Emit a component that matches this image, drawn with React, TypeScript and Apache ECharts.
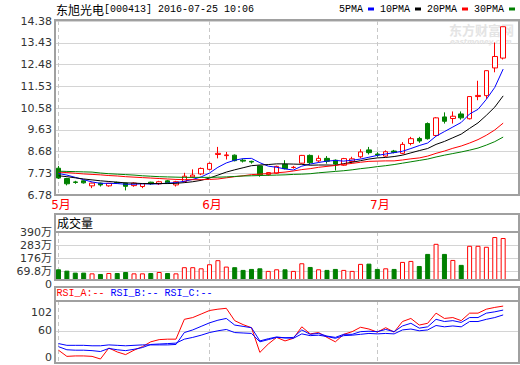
import React, { useEffect, useRef } from "react";
import * as echarts from "echarts";

const dates = [
  "2016-05-06",
  "2016-05-09", "2016-05-10", "2016-05-11", "2016-05-12", "2016-05-13",
  "2016-05-16", "2016-05-17", "2016-05-18", "2016-05-19", "2016-05-20",
  "2016-05-23", "2016-05-24", "2016-05-25", "2016-05-26", "2016-05-27",
  "2016-05-30", "2016-05-31",
  "2016-06-01", "2016-06-02", "2016-06-03",
  "2016-06-06", "2016-06-07", "2016-06-08",
  "2016-06-13", "2016-06-14", "2016-06-15", "2016-06-16", "2016-06-17",
  "2016-06-20", "2016-06-21", "2016-06-22", "2016-06-23", "2016-06-24",
  "2016-06-27", "2016-06-28", "2016-06-29", "2016-06-30",
  "2016-07-01",
  "2016-07-04", "2016-07-05", "2016-07-06", "2016-07-07", "2016-07-08",
  "2016-07-11", "2016-07-12", "2016-07-13", "2016-07-14", "2016-07-15",
  "2016-07-18", "2016-07-19", "2016-07-20", "2016-07-21", "2016-07-22",
];

// [open, close, low, high]
const candles = [
  [7.95, 7.52, 7.48, 8.05], [7.50, 7.27, 7.20, 7.53], [7.35, 7.33, 7.27, 7.40],
  [7.40, 7.31, 7.28, 7.42], [7.18, 7.30, 7.08, 7.32], [7.30, 7.22, 7.15, 7.32],
  [7.18, 7.29, 7.14, 7.31], [7.33, 7.30, 7.26, 7.36], [7.30, 7.16, 6.98, 7.32],
  [7.19, 7.30, 7.14, 7.33], [7.15, 7.28, 7.08, 7.30], [7.34, 7.27, 7.22, 7.36],
  [7.27, 7.36, 7.22, 7.40], [7.40, 7.31, 7.27, 7.44], [7.22, 7.36, 7.15, 7.40],
  [7.37, 7.60, 7.33, 7.75], [7.57, 7.65, 7.52, 7.90], [7.70, 7.94, 7.65, 7.98],
  [7.90, 8.16, 7.86, 8.20], [8.55, 8.60, 8.38, 8.88], [8.50, 8.53, 8.33, 8.66],
  [8.52, 8.28, 8.25, 8.55], [8.30, 8.26, 8.20, 8.35], [8.25, 8.22, 8.15, 8.28],
  [8.05, 7.66, 7.58, 8.06], [7.67, 7.76, 7.62, 7.78], [7.73, 8.03, 7.70, 8.06],
  [8.12, 7.93, 7.90, 8.30], [7.98, 7.99, 7.93, 8.05], [8.17, 8.51, 8.15, 8.53],
  [8.51, 8.19, 8.12, 8.55], [8.27, 8.38, 8.20, 8.51], [8.38, 8.25, 8.15, 8.48],
  [8.30, 8.13, 7.85, 8.33], [8.08, 8.37, 8.05, 8.40], [8.24, 8.36, 8.20, 8.45],
  [8.45, 8.66, 8.38, 8.78], [8.75, 8.63, 8.55, 8.88], [8.57, 8.53, 8.45, 8.65],
  [8.48, 8.67, 8.45, 8.73], [8.70, 8.64, 8.60, 8.75], [8.60, 8.99, 8.56, 9.09],
  [9.03, 9.24, 8.95, 9.32], [9.25, 9.14, 9.06, 9.32], [9.90, 9.24, 9.20, 9.95],
  [9.38, 10.15, 9.35, 10.18], [10.19, 10.00, 9.90, 10.39], [10.12, 10.22, 9.90, 10.43],
  [10.32, 10.15, 10.07, 10.43], [10.11, 11.08, 10.08, 11.08], [11.08, 11.13, 10.92, 11.77],
  [11.12, 12.21, 10.98, 12.22], [12.33, 12.83, 12.14, 13.44], [12.76, 14.13, 12.70, 14.13],
];

// volume in 万
const volumes = [
  87, 76, 60, 60, 54, 49, 57, 57, 65, 54, 54, 57, 65, 57, 54, 104, 104, 95,
  128, 161, 109, 104, 82, 90, 95, 74, 87, 87, 74, 136, 106, 87, 82, 90, 82, 74,
  131, 133, 90, 95, 90, 147, 155, 114, 212, 294, 212, 163, 123, 278, 278, 270, 349, 341,
];

const ma5 = [
  7.72, 7.65, 7.55, 7.45, 7.35, 7.29, 7.29, 7.28, 7.25, 7.25, 7.27, 7.26, 7.27, 7.30,
  7.32, 7.38, 7.46, 7.57, 7.74, 7.99, 8.18, 8.30, 8.37, 8.38, 8.19, 8.04, 7.99, 7.92,
  7.87, 8.04, 8.13, 8.20, 8.26, 8.29, 8.26, 8.30, 8.35, 8.43, 8.51, 8.57, 8.63, 8.69,
  8.81, 8.94, 9.05, 9.35, 9.55, 9.75, 9.95, 10.32, 10.52, 10.96, 11.48, 12.28,
];
const ma10 = [
  7.62, 7.58, 7.53, 7.48, 7.44, 7.40, 7.37, 7.34, 7.31, 7.30, 7.28, 7.28, 7.28, 7.28,
  7.29, 7.32, 7.36, 7.42, 7.52, 7.65, 7.78, 7.88, 7.97, 8.06, 8.09, 8.11, 8.14, 8.14,
  8.13, 8.12, 8.08, 8.09, 8.09, 8.08, 8.15, 8.21, 8.28, 8.35, 8.40, 8.42, 8.46, 8.52,
  8.62, 8.72, 8.81, 8.99, 9.12, 9.28, 9.44, 9.69, 9.93, 10.26, 10.62, 11.11,
];
const ma20 = [
  7.78, 7.76, 7.73, 7.70, 7.68, 7.66, 7.63, 7.61, 7.58, 7.56, 7.54, 7.52, 7.50, 7.48,
  7.46, 7.45, 7.45, 7.45, 7.46, 7.48, 7.53, 7.58, 7.62, 7.67, 7.69, 7.72, 7.75, 7.78,
  7.83, 7.89, 7.93, 7.99, 8.03, 8.07, 8.12, 8.16, 8.21, 8.25, 8.26, 8.27, 8.27, 8.31,
  8.36, 8.40, 8.48, 8.60, 8.70, 8.82, 8.92, 9.05, 9.20, 9.39, 9.62, 9.92,
];
const ma30 = [
  7.82, 7.81, 7.80, 7.79, 7.78, 7.74, 7.71, 7.69, 7.67, 7.65, 7.62, 7.60, 7.58, 7.57,
  7.56, 7.55, 7.55, 7.55, 7.55, 7.56, 7.57, 7.59, 7.61, 7.62, 7.63, 7.64, 7.65, 7.66,
  7.68, 7.69, 7.71, 7.75, 7.78, 7.81, 7.84, 7.88, 7.93, 7.97, 8.02, 8.06, 8.11, 8.17,
  8.23, 8.29, 8.35, 8.44, 8.52, 8.59, 8.66, 8.74, 8.83, 8.96, 9.11, 9.31,
];

const rsiA = [
  16, 2, 3, 3, 2, -4, 21, 12, 6, 16, 24, 35, 40, 41, 41, 86, 90, 98, 106, 109, 111,
  83, 74, 67, 11, 30, 45, 37, 43, 69, 53, 56, 45, 35, 52, 58, 68, 64, 57, 67, 57, 81,
  88, 73, 77, 100, 88, 90, 83, 100, 100, 109, 113, 116,
];
const rsiB = [
  31, 27, 27, 27, 26, 26, 28, 27, 26, 27, 28, 28, 28, 28, 29, 56, 62, 70, 78, 84, 88,
  73, 70, 67, 37, 42, 46, 44, 45, 62, 52, 54, 48, 45, 52, 52, 58, 59, 58, 63, 58, 71,
  77, 66, 69, 86, 81, 83, 79, 90, 90, 100, 103, 107,
];
const rsiC = [
  24, 17, 16, 16, 15, 13, 20, 17, 15, 18, 22, 29, 30, 31, 32, 41, 45, 50, 56, 60, 63,
  56, 55, 54, 35, 40, 45, 44, 43, 53, 49, 50, 47, 43, 49, 50, 52, 54, 53, 54, 53, 62,
  64, 60, 62, 72, 69, 71, 69, 81, 81, 86, 90, 96,
];

const priceTicks = [6.78, 7.73, 8.68, 9.63, 10.58, 11.53, 12.48, 13.43, 14.38];
const volumeTicks = [69.8, 176, 283, 390];
const volumeZeroTick = [0];
const rsiTicks = [0, 60, 102];
const rsiGridTicks = [60];

const monoFont = "'Liberation Mono', 'DejaVu Sans Mono', monospace";
const cjkFont = "'Noto Sans CJK SC', sans-serif";
const axisFont = "'DejaVu Sans', 'Noto Sans CJK SC', sans-serif";

const UP = "#ff0000";
const DOWN = "#008000";
const FRAME = "#a0a0a0";
const GRIDC = "#d4d4d4";

const isMonthStart = (i: number) =>
  i === 0 || dates[i].slice(5, 7) !== dates[i - 1].slice(5, 7);

export default function App() {
  const ref = useRef<HTMLDivElement>(null);

  useEffect(() => {
    document.body.style.margin = "0";
    if (!ref.current) return;
    const chart = echarts.init(ref.current, undefined, { renderer: "svg" });

    const band = 8.39;
    const dataLeft = 58.5;
    const dataWidth = band * (dates.length - 1);

    const monthSplit = {
      show: true,
      interval: (i: number) => isMonthStart(i),
      lineStyle: { color: "#c8c8c8", type: [4, 3], width: 1 },
    };

    const bgX = (g: number) => ({ type: "value", gridIndex: g, min: 0, max: 1, show: false });
    const dataX = (g: number, labels: boolean) => ({
      type: "category",
      gridIndex: g,
      data: dates,
      boundaryGap: false,
      axisLine: { show: false },
      axisTick: { show: false },
      axisLabel: labels
        ? {
            show: true,
            interval: (i: number) => isMonthStart(i),
            formatter: (v: string) => `${parseInt(v.slice(5, 7), 10)}月`,
            color: UP,
            fontSize: 12,
            fontFamily: axisFont,
            margin: 4,
            padding: [0, 0, 0, 5],
          }
        : { show: false },
      splitLine: monthSplit,
    });
    const yLabel = {
      color: "#333",
      fontSize: 11,
      fontFamily: axisFont,
      margin: 3,
      showMinLabel: true,
      showMaxLabel: true,
      hideOverlap: false,
    };

    const upOf = (i: number) => candles[i][1] >= candles[i][0];

    chart.setOption({
      animation: false,
      backgroundColor: "#fff",
      title: [
        {
          text: "{c|东旭光电}{m|[000413] 2016-07-25 10:06}",
          left: 56,
          top: 3,
          padding: 0,
          textStyle: {
            fontWeight: "normal",
            rich: {
              c: { fontFamily: cjkFont, fontSize: 12, color: "#000", fontWeight: "normal" },
              m: { fontFamily: monoFont, fontSize: 10, color: "#000", fontWeight: "normal" },
            },
          },
        },
        {
          text: "成交量",
          left: 57,
          top: 216,
          padding: 0,
          textStyle: { fontFamily: cjkFont, fontSize: 12, color: "#000", fontWeight: "normal" },
        },
        {
          text: "{a|RSI_A:-- }{b|RSI_B:-- }{b|RSI_C:--}",
          left: 56.5,
          top: 288,
          padding: 0,
          textStyle: {
            fontWeight: "normal",
            rich: {
              a: { fontFamily: monoFont, fontSize: 10, color: "#ff0000", fontWeight: "normal" },
              b: { fontFamily: monoFont, fontSize: 10, color: "#0000ff", fontWeight: "normal" },
            },
          },
        },
        {
          text: "东方财富网",
          left: 449,
          top: 22,
          padding: 0,
          z: 0,
          textStyle: { fontFamily: cjkFont, fontSize: 13, lineHeight: 14, fontWeight: "bold", color: "#e4e4e4" },
        },
        {
          text: "eastmoney.com",
          left: 450,
          top: 38,
          padding: 0,
          z: 0,
          textStyle: { fontFamily: axisFont, fontSize: 7, lineHeight: 7, fontStyle: "italic", fontWeight: "bold", color: "#e4e4e4" },
        },
      ],
      legend: {
        right: 5,
        top: 4,
        padding: 0,
        itemGap: 6,
        itemWidth: 6,
        itemHeight: 3,
        align: "right",
        icon: "rect",
        selectedMode: false,
        data: ["5PMA", "10PMA", "20PMA", "30PMA"],
        textStyle: { fontFamily: monoFont, fontSize: 10, color: "#000" },
      },
      grid: [
        { left: 55, top: 21, width: 464, height: 174 },
        { left: dataLeft, top: 21, width: dataWidth, height: 174 },
        { left: 55, top: 232, width: 464, height: 48 },
        { left: dataLeft, top: 232, width: dataWidth, height: 48 },
        { left: 55, top: 301, width: 464, height: 62 },
        { left: dataLeft, top: 301, width: dataWidth, height: 62 },
      ],
      xAxis: [bgX(0), dataX(1, true), bgX(2), dataX(3, false), bgX(4), dataX(5, false)],
      yAxis: [
        {
          type: "value",
          gridIndex: 0,
          min: 6.78,
          max: 14.38,
          axisLine: { show: false },
          axisTick: { show: false, customValues: priceTicks },
          axisLabel: { ...yLabel, customValues: priceTicks, formatter: (v: number) => v.toFixed(2) },
          splitLine: { show: true, lineStyle: { color: GRIDC } },
        },
        { type: "value", gridIndex: 1, min: 6.78, max: 14.38, show: false },
        {
          type: "value",
          gridIndex: 2,
          min: 0,
          max: 390,
          axisLine: { show: false },
          axisTick: { show: false, customValues: volumeTicks },
          axisLabel: {
            ...yLabel,
            customValues: volumeTicks,
            formatter: (v: number) => `${v}万`,
          },
          splitLine: { show: true, lineStyle: { color: GRIDC } },
        },
        { type: "value", gridIndex: 3, min: 0, max: 390, show: false },
        {
          type: "value",
          gridIndex: 4,
          min: -13.04,
          max: 127.55,
          axisLine: { show: false },
          axisTick: { show: false, customValues: rsiGridTicks },
          axisLabel: { ...yLabel, customValues: rsiTicks, formatter: (v: number) => `${v}` },
          splitLine: { show: true, lineStyle: { color: GRIDC } },
        },
        { type: "value", gridIndex: 5, min: -13.04, max: 127.55, show: false },
        {
          type: "value",
          gridIndex: 2,
          position: "left",
          offset: 0,
          min: 0,
          max: 390,
          axisLine: { show: false },
          axisTick: { show: false, customValues: volumeZeroTick },
          axisLabel: {
            ...yLabel,
            customValues: volumeZeroTick,
            formatter: (v: number) => `{z|${v}}`,
            rich: {
              z: { padding: [8, 0, 0, 0], fontSize: 11, fontFamily: axisFont, color: "#333" },
            },
          },
          splitLine: { show: false },
        },
      ],
      graphic: [
        { type: "rect", shape: { x: 55, y: 20, width: 464, height: 175 }, style: { fill: "none", stroke: FRAME, lineWidth: 2 }, z: 10 },
        { type: "rect", shape: { x: 55, y: 214, width: 464, height: 66 }, style: { fill: "none", stroke: FRAME, lineWidth: 2 }, z: 10 },
        { type: "line", shape: { x1: 55, y1: 232, x2: 519, y2: 232 }, style: { stroke: FRAME, lineWidth: 2 }, z: 10 },
        { type: "rect", shape: { x: 55, y: 287, width: 464, height: 76 }, style: { fill: "none", stroke: FRAME, lineWidth: 2 }, z: 10 },
        { type: "line", shape: { x1: 55, y1: 301, x2: 519, y2: 301 }, style: { stroke: FRAME, lineWidth: 2 }, z: 10 },
      ],
      series: [
        {
          type: "candlestick",
          xAxisIndex: 1,
          yAxisIndex: 1,
          data: candles,
          barWidth: 5,
          clip: false,
          itemStyle: {
            color: "#ffffff",
            color0: DOWN,
            borderColor: UP,
            borderColor0: DOWN,
            borderWidth: 1,
          },
        },
        { name: "5PMA", type: "line", xAxisIndex: 1, yAxisIndex: 1, data: ma5, showSymbol: false, color: "#0000ff", lineStyle: { width: 1 } },
        { name: "10PMA", type: "line", xAxisIndex: 1, yAxisIndex: 1, data: ma10, showSymbol: false, color: "#000000", lineStyle: { width: 1 } },
        { name: "20PMA", type: "line", xAxisIndex: 1, yAxisIndex: 1, data: ma20, showSymbol: false, color: "#ff0000", lineStyle: { width: 1 } },
        { name: "30PMA", type: "line", xAxisIndex: 1, yAxisIndex: 1, data: ma30, showSymbol: false, color: "#008000", lineStyle: { width: 1 } },
        {
          name: "成交量",
          type: "bar",
          xAxisIndex: 3,
          yAxisIndex: 3,
          barWidth: 5,
          clip: false,
          data: volumes.map((v, i) => ({
            value: v,
            itemStyle: upOf(i)
              ? { color: "#ffffff", borderColor: UP, borderWidth: 1 }
              : { color: DOWN, borderColor: DOWN, borderWidth: 1 },
          })),
        },
        { name: "RSI_A", type: "line", xAxisIndex: 5, yAxisIndex: 5, data: rsiA, showSymbol: false, color: "#ff0000", lineStyle: { width: 1 } },
        { name: "RSI_B", type: "line", xAxisIndex: 5, yAxisIndex: 5, data: rsiB, showSymbol: false, color: "#0000ff", lineStyle: { width: 1 } },
        { name: "RSI_C", type: "line", xAxisIndex: 5, yAxisIndex: 5, data: rsiC, showSymbol: false, color: "#0000ff", lineStyle: { width: 1 } },
      ],
    });

    return () => chart.dispose();
  }, []);

  return <div ref={ref} style={{ width: 520, height: 365 }} />;
}
